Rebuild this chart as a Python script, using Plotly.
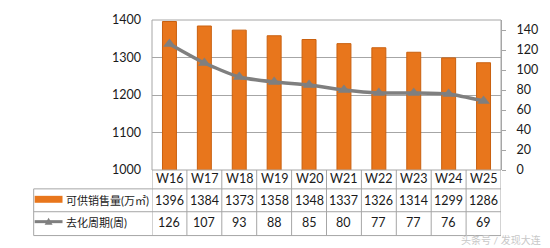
import plotly.graph_objects as go

weeks = ["W16", "W17", "W18", "W19", "W20", "W21", "W22", "W23", "W24", "W25"]
supply = [1396, 1384, 1373, 1358, 1348, 1337, 1326, 1314, 1299, 1286]
cycle = [126, 107, 93, 88, 85, 80, 77, 77, 76, 69]
supply_name = "可供销售量(万㎡)"
cycle_name = "去化周期(周)"

W, H = 550, 248
L, R, T, B = 152, 47, 19, 78
pw, ph = W - L - R, H - T - B

def py(p):  # pixel y -> paper y
    return (H - B - p) / ph

def px(p):  # pixel x -> paper x
    return (p - L) / pw

FONT = "Lato, 'Noto Sans CJK SC', sans-serif"
GRID = "#A6A6A6"
ORANGE = "#E8761C"
GRAY = "#7F7F7F"
TXT = "#1a1a1a"

fig = go.Figure()
fig.add_trace(go.Bar(x=weeks, y=supply, name=supply_name, width=0.4,
                     marker=dict(color=ORANGE, line=dict(color="#C9600F", width=1)),
                     showlegend=False))
fig.add_trace(go.Scatter(x=weeks, y=cycle, name=cycle_name, yaxis="y2", mode="lines+markers",
                         line=dict(color=GRAY, width=3.5, shape="spline", smoothing=0.6),
                         marker=dict(symbol="triangle-up", size=11, color=GRAY),
                         showlegend=False))

shapes = []
shapes.append(dict(type="rect", xref="paper", yref="paper", x0=0, x1=1, y0=0, y1=1,
                   line=dict(color=GRID, width=1)))
for yp in (189, 212, 236):
    shapes.append(dict(type="line", xref="paper", yref="paper", x0=px(33), x1=1,
                       y0=py(yp), y1=py(yp), line=dict(color=GRID, width=1)))
shapes.append(dict(type="line", xref="paper", yref="paper", x0=px(33), x1=px(33),
                   y0=py(189), y1=py(236), line=dict(color=GRID, width=1)))
for k in range(len(weeks) + 1):
    shapes.append(dict(type="line", xref="x", yref="paper", x0=k - 0.5, x1=k - 0.5,
                       y0=0, y1=py(236), line=dict(color=GRID, width=1)))
# legend keys
shapes.append(dict(type="rect", xref="paper", yref="paper", x0=px(34), x1=px(62),
                   y0=py(203), y1=py(196), fillcolor=ORANGE, line=dict(width=0)))
shapes.append(dict(type="line", xref="paper", yref="paper", x0=px(34), x1=px(62),
                   y0=py(222), y1=py(222), line=dict(color=GRAY, width=3)))
tx = [px(44), px(52), px(48)]
ty = [py(225), py(225), py(218)]
shapes.append(dict(type="path", xref="paper", yref="paper",
                   path=f"M {tx[0]},{ty[0]} L {tx[1]},{ty[1]} L {tx[2]},{ty[2]} Z",
                   fillcolor=GRAY, line=dict(width=0)))

annotations = []
def ann(**kw):
    d = dict(showarrow=False, yanchor="middle", font=dict(size=12.5, color=TXT, family=FONT))
    d.update(kw)
    annotations.append(d)

for i, w in enumerate(weeks):
    ann(x=w, y=py(179), xref="x", yref="paper", text=w)
    ann(x=w, y=py(200.5), xref="x", yref="paper", text=str(supply[i]))
    ann(x=w, y=py(223), xref="x", yref="paper", text=str(cycle[i]))
ann(x=px(63), y=py(200.5), xref="paper", yref="paper", text=supply_name, xanchor="left",
    font=dict(size=11, color=TXT, family=FONT))
ann(x=px(63), y=py(223), xref="paper", yref="paper", text=cycle_name, xanchor="left",
    font=dict(size=11, color=TXT, family=FONT))
ann(x=px(545), y=py(240), xref="paper", yref="paper", text="头条号 / 发现大连",
    xanchor="right", font=dict(size=10, color="#C8C8C8", family=FONT))

fig.update_layout(
    width=W, height=H,
    margin=dict(l=L, r=R, t=T, b=B),
    paper_bgcolor="white", plot_bgcolor="white",
    font=dict(family=FONT, size=12, color=TXT),
    xaxis=dict(showticklabels=False, showgrid=False, ticks="", showline=False, zeroline=False,
               range=[-0.5, len(weeks) - 0.5]),
    yaxis=dict(range=[1000, 1400], dtick=100, showgrid=True, gridcolor=GRID, gridwidth=1,
               ticks="", showline=False, zeroline=False, ticklabelstandoff=10,
               tickfont=dict(size=12.5)),
    yaxis2=dict(range=[0, 150], tickvals=[0, 20, 40, 60, 80, 100, 120, 140], overlaying="y",
                side="right", showgrid=False, zeroline=False, ticks="outside", ticklen=4,
                tickcolor=GRID, showline=True, linecolor=GRID, tickfont=dict(size=12.5),
                ticklabelstandoff=8),
    shapes=shapes, annotations=annotations,
)

fig.write_html("out.html")
